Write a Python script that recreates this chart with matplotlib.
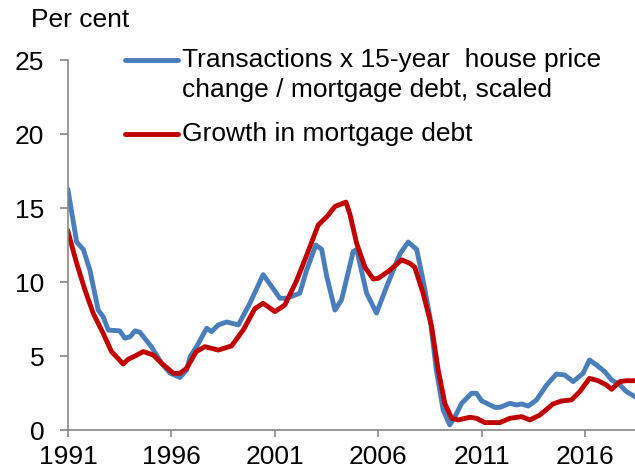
import matplotlib.pyplot as plt
from matplotlib.lines import Line2D

plt.rcParams['font.family'] = ['Liberation Sans', 'DejaVu Sans']

# Lecturas del gráfico (año decimal, porcentaje)
anos_trans = [1991.0, 1991.42, 1991.74, 1992.06, 1992.46, 1992.7, 1992.95, 1993.5, 1993.75,
              1994.0, 1994.24, 1994.48, 1995.04, 1995.53, 1995.93, 1996.41, 1996.73, 1996.9,
              1997.2, 1997.7, 1997.94, 1998.26, 1998.67, 1999.23, 1999.79, 2000.43, 2000.84,
              2001.24, 2001.57, 2002.2, 2002.53, 2002.98, 2003.26, 2003.5, 2003.9, 2004.22,
              2004.78, 2004.95, 2005.43, 2005.91, 2006.4, 2007.04, 2007.44, 2007.85, 2008.16,
              2008.49, 2008.8, 2009.13, 2009.45, 2009.7, 2010.02, 2010.5, 2010.74, 2010.98,
              2011.63, 2011.87, 2012.35, 2012.68, 2012.92, 2013.24, 2013.64, 2014.13, 2014.6,
              2015.0, 2015.41, 2015.89, 2016.2, 2016.54, 2016.94, 2017.27, 2017.67, 2017.99,
              2018.4]
transacciones = [16.2, 12.7, 12.2, 10.8, 8.1, 7.65, 6.75, 6.7, 6.2,
                 6.3, 6.7, 6.6, 5.6, 4.5, 3.85, 3.55, 4.05, 4.95,
                 5.6, 6.87, 6.65, 7.1, 7.3, 7.1, 8.56, 10.5, 9.7,
                 8.9, 8.9, 9.24, 10.8, 12.5, 12.2, 10.4, 8.1, 8.8,
                 12.05, 12.2, 9.24, 7.9, 9.7, 11.9, 12.7, 12.2, 10.1,
                 7.65, 4.05, 1.35, 0.34, 0.9, 1.8, 2.48, 2.48, 1.98,
                 1.53, 1.53, 1.8, 1.69, 1.76, 1.62, 2.03, 3.04, 3.78,
                 3.72, 3.27, 3.83, 4.73, 4.39, 3.94, 3.38, 3.04, 2.59,
                 2.25]

anos_deuda = [1991.0, 1991.42, 1991.82, 1992.22, 1992.7, 1993.1, 1993.67, 1993.91, 1994.24,
              1994.64, 1995.12, 1995.53, 1996.09, 1996.41, 1996.73, 1997.2, 1997.62, 1998.26,
              1998.9, 1999.47, 2000.03, 2000.43, 2001.0, 2001.48, 2002.05, 2002.6, 2003.09,
              2003.5, 2003.9, 2004.43, 2004.62, 2004.95, 2005.35, 2005.75, 2005.99, 2006.56,
              2007.12, 2007.52, 2007.76, 2008.16, 2008.57, 2008.89, 2009.21, 2009.54, 2009.86,
              2010.42, 2010.74, 2011.14, 2011.87, 2012.35, 2012.92, 2013.32, 2013.8, 2014.44,
              2014.85, 2015.33, 2015.73, 2016.2, 2016.62, 2017.02, 2017.27, 2017.67, 2017.99,
              2018.4]
deuda = [13.4, 11.26, 9.46, 7.88, 6.53, 5.3, 4.46, 4.78, 5.0,
         5.3, 5.07, 4.5, 3.83, 3.83, 4.17, 5.3, 5.63, 5.4,
         5.68, 6.76, 8.2, 8.56, 8.0, 8.45, 10.1, 12.05, 13.85,
         14.4, 15.1, 15.4, 14.6, 12.6, 11.0, 10.2, 10.25, 10.8,
         11.5, 11.26, 11.0, 9.24, 7.0, 4.05, 1.8, 0.79, 0.68,
         0.86, 0.79, 0.5, 0.5, 0.79, 0.9, 0.68, 1.01, 1.76,
         1.96, 2.03, 2.59, 3.49, 3.33, 3.04, 2.75, 3.27, 3.33,
         3.33]

etiquetas_x = [1991, 1996, 2001, 2006, 2011, 2016]

azul = '#4A7EBB'
rojo = '#C00000'
gris = '#868686'
tam = 19

fig = plt.figure(figsize=(6.35, 4.72), dpi=100)
ax = fig.add_axes([68 / 635, 1 - 430 / 472, 1 - 68 / 635, (430 - 60) / 472])

ax.plot(anos_trans, transacciones, color=azul, linewidth=3.5, solid_joinstyle='round')
ax.plot(anos_deuda, deuda, color=rojo, linewidth=3.5, solid_joinstyle='round')

ax.set_xlim(1991, 2018.4)
ax.set_ylim(0, 25)
ax.set_yticks([0, 5, 10, 15, 20, 25])
ax.set_xticks(etiquetas_x)

for lado in ['top', 'right']:
    ax.spines[lado].set_visible(False)
for lado in ['left', 'bottom']:
    ax.spines[lado].set_color(gris)
    ax.spines[lado].set_linewidth(1.2)

ax.tick_params(axis='y', direction='out', length=6, width=1.2, color=gris, pad=11, labelsize=tam)
ax.tick_params(axis='x', direction='out', length=5, width=1.2, color=gris, pad=6, labelsize=tam)

# Leyenda manual (la línea queda alineada con la primera línea del texto)
x0, x1, xt = (125 - 68) / 567, (178 - 68) / 567, (182 - 68) / 567
ax.add_line(Line2D([x0, x1], [1.0, 1.0], transform=ax.transAxes, color=azul,
                   linewidth=3.5, solid_capstyle='round', clip_on=False))
ax.text(xt, 1.0, 'Transactions x 15-year  house price', transform=ax.transAxes,
        fontsize=tam, va='center', ha='left')
ax.text(xt, 1 - 30 / 370, 'change / mortgage debt, scaled', transform=ax.transAxes,
        fontsize=tam, va='center', ha='left')
ax.add_line(Line2D([x0, x1], [0.8, 0.8], transform=ax.transAxes, color=rojo,
                   linewidth=3.5, solid_capstyle='round', clip_on=False))
ax.text(xt, 0.8, 'Growth in mortgage debt', transform=ax.transAxes,
        fontsize=tam, va='center', ha='left')

fig.text(31 / 635, 1 - 20 / 472, 'Per cent', fontsize=tam, va='center', ha='left')

fig.savefig('out.png', dpi=100)
